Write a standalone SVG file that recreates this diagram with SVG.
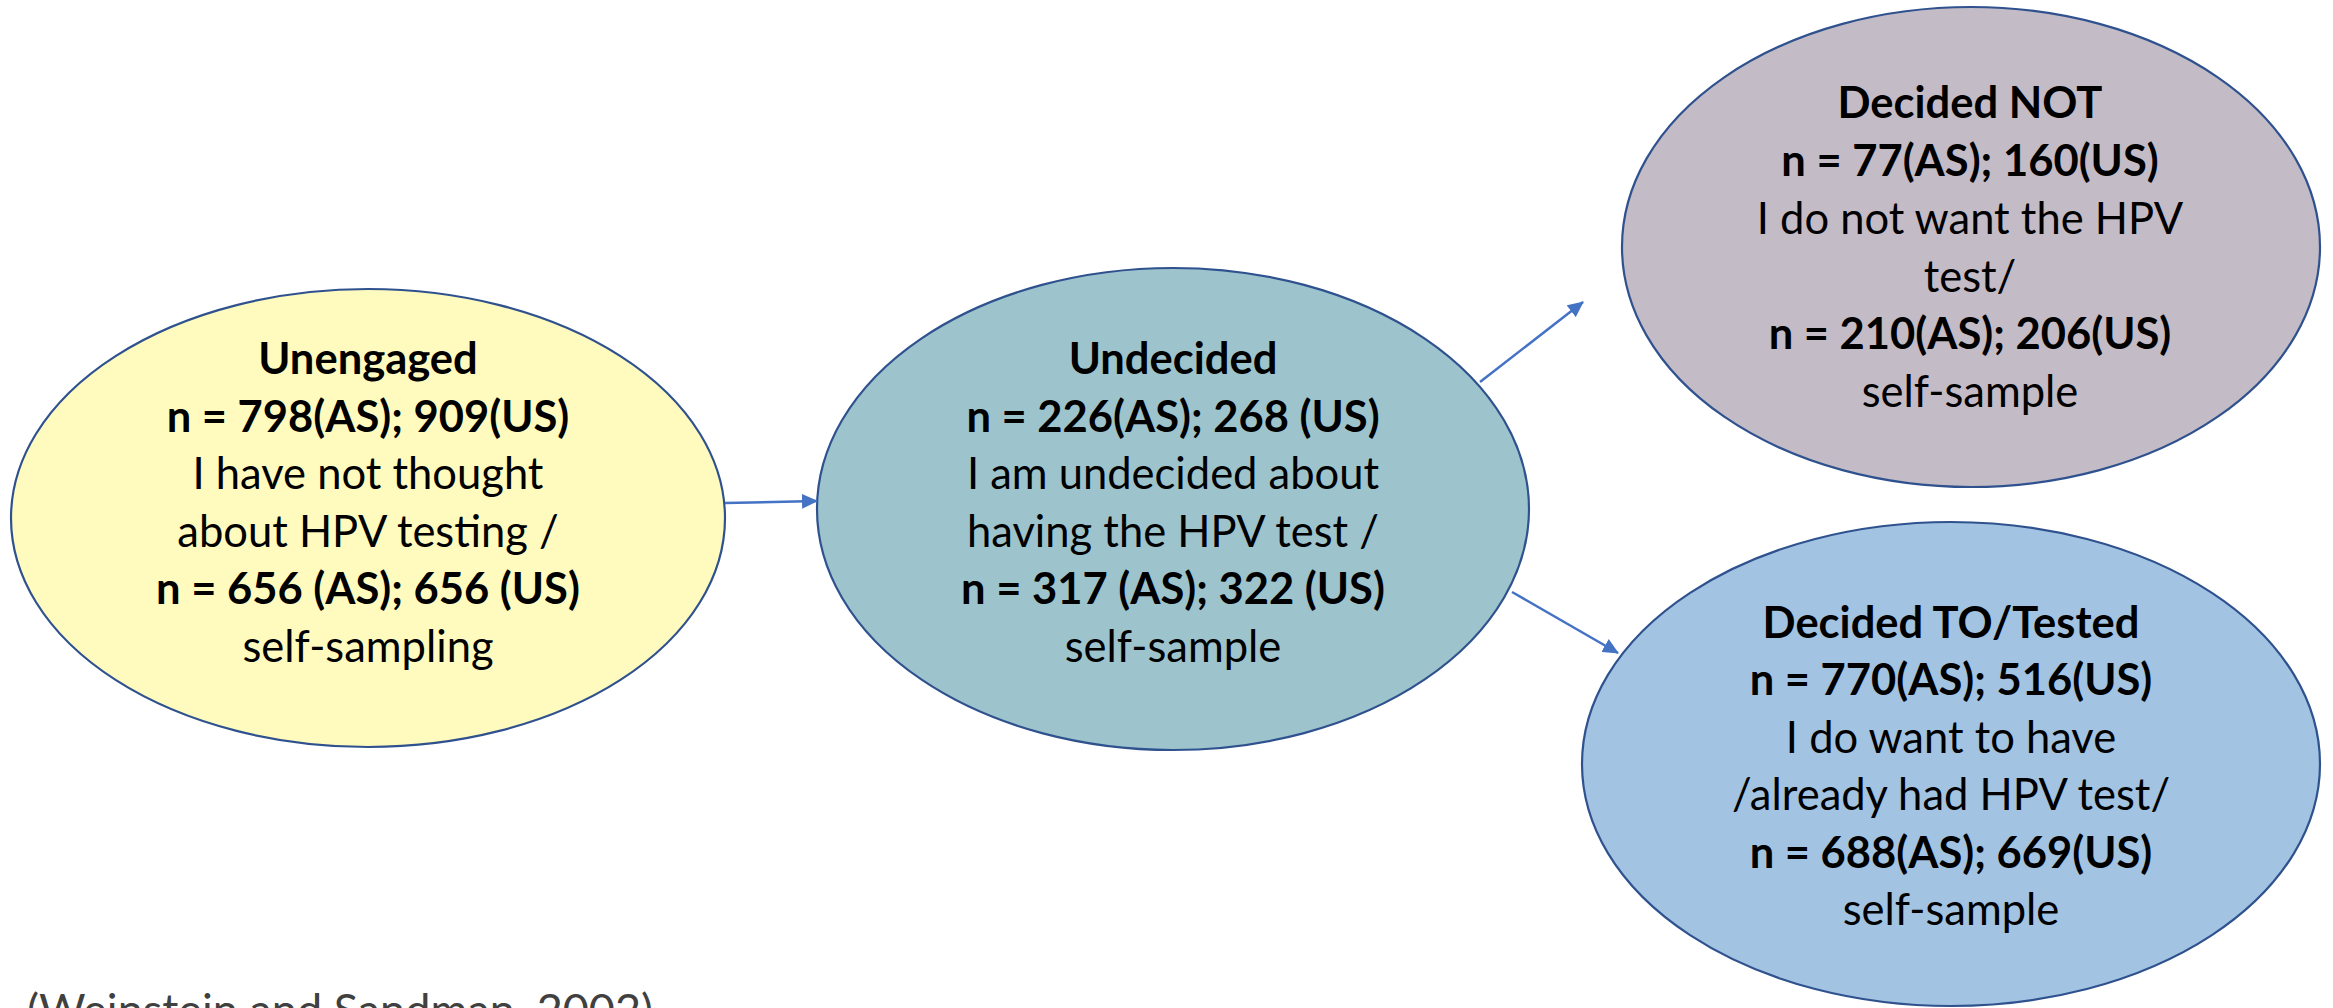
<svg xmlns="http://www.w3.org/2000/svg" width="2333" height="1008" viewBox="0 0 2333 1008">
<defs>
<style>
.node ellipse{stroke:#2F528F;stroke-width:2.2}
.t{font-family:Lato,"Liberation Sans",sans-serif;font-size:43.5px;fill:#000;text-anchor:middle}
.b{font-weight:bold}
.conn line{stroke:#4472C4;stroke-width:2.5;fill:none}
.cite{font-family:Lato,"Liberation Sans",sans-serif;font-size:45px;fill:#404040}
</style>
<marker id="arr" viewBox="0 0 16 15" refX="15" refY="7.5" markerWidth="16" markerHeight="15" markerUnits="userSpaceOnUse" orient="auto">
<path d="M0,0 L16,7.5 L0,15 z" fill="#4472C4"/>
</marker>
</defs>
<rect width="2333" height="1008" fill="#fff"/>
<g id="unengaged" class="node">
<ellipse cx="368" cy="518" rx="357" ry="229" fill="#FFFBBF"/>
<text class="t b" x="368" y="374">Unengaged</text>
<text class="t b" x="368" y="431.5">n = 798(AS); 909(US)</text>
<text class="t" x="368" y="489">I have not thought</text>
<text class="t" x="368" y="546.5">about HPV testing /</text>
<text class="t b" x="368" y="604">n = 656 (AS); 656 (US)</text>
<text class="t" x="368" y="661.5">self-sampling</text>
</g>
<g id="undecided" class="node">
<ellipse cx="1173" cy="509" rx="356" ry="241" fill="#9DC4CD"/>
<text class="t b" x="1173" y="374">Undecided</text>
<text class="t b" x="1173" y="431.5">n = 226(AS); 268 (US)</text>
<text class="t" x="1173" y="489">I am undecided about</text>
<text class="t" x="1173" y="546.5">having the HPV test /</text>
<text class="t b" x="1173" y="604">n = 317 (AS); 322 (US)</text>
<text class="t" x="1173" y="661.5">self-sample</text>
</g>
<g id="decided-not" class="node">
<ellipse cx="1971" cy="247" rx="349" ry="240" fill="#C3BBC6"/>
<text class="t b" x="1970" y="118">Decided NOT</text>
<text class="t b" x="1970" y="176">n = 77(AS); 160(US)</text>
<text class="t" x="1970" y="234">I do not want the HPV</text>
<text class="t" x="1970" y="292">test/</text>
<text class="t b" x="1970" y="349">n = 210(AS); 206(US)</text>
<text class="t" x="1970" y="407">self-sample</text>
</g>
<g id="decided-to" class="node">
<ellipse cx="1951" cy="764" rx="369" ry="242" fill="#A2C4E2"/>
<text class="t b" x="1951" y="638">Decided TO/Tested</text>
<text class="t b" x="1951" y="695">n = 770(AS); 516(US)</text>
<text class="t" x="1951" y="753">I do want to have</text>
<text class="t" x="1951" y="810">/already had HPV test/</text>
<text class="t b" x="1951" y="868">n = 688(AS); 669(US)</text>
<text class="t" x="1951" y="925">self-sample</text>
</g>
<g id="connectors" class="conn">
<line x1="725" y1="503" x2="817" y2="501" marker-end="url(#arr)"/>
<line x1="1480" y1="382" x2="1583" y2="302" marker-end="url(#arr)"/>
<line x1="1512" y1="592" x2="1618" y2="653" marker-end="url(#arr)"/>
</g>
<text class="cite" x="27" y="1026">(Weinstein and Sandman, 2002)</text>
</svg>
